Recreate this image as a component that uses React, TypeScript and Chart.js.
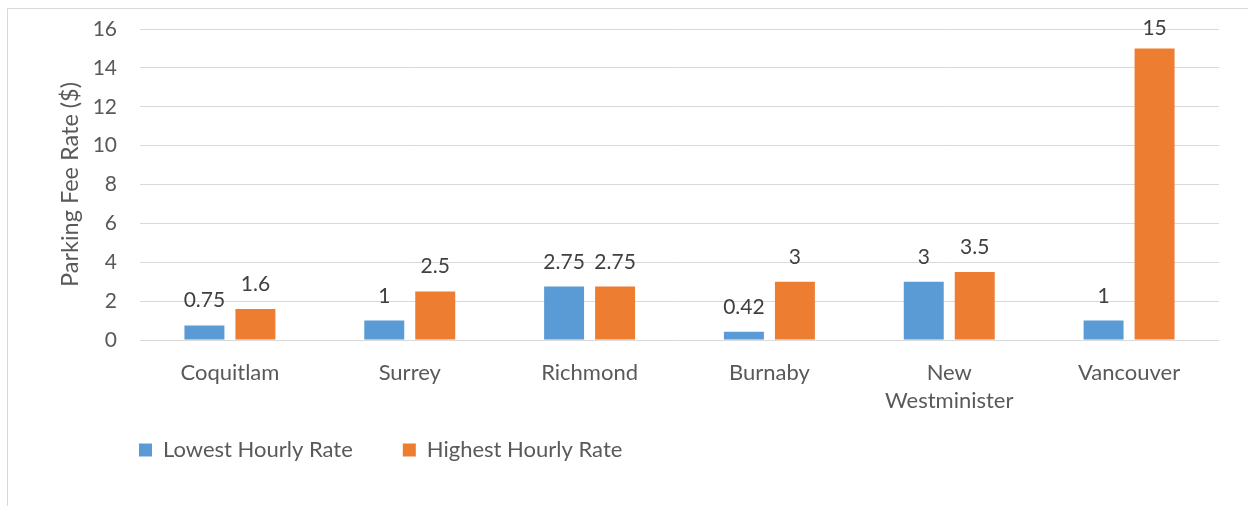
import React, { useEffect, useRef } from "react";
import { Chart, registerables } from "chart.js";

Chart.register(...registerables);

const categories: (string | string[])[] = [
  "Coquitlam",
  "Surrey",
  "Richmond",
  "Burnaby",
  ["New", "Westminister"],
  "Vancouver",
];
const lowestHourlyRate = [0.75, 1, 2.75, 0.42, 3, 1];
const highestHourlyRate = [1.6, 2.5, 2.75, 3, 3.5, 15];
const seriesNames = ["Lowest Hourly Rate", "Highest Hourly Rate"];
const yTicks = [0, 2, 4, 6, 8, 10, 12, 14, 16];
const yTitle = "Parking Fee Rate ($)";

const FONT = "Lato";
const AXIS_COLOR = "#595959";
const LABEL_COLOR = "#404040";

const frame = {
  id: "frame",
  beforeDraw(chart: any) {
    const ctx = chart.ctx;
    ctx.save();
    ctx.strokeStyle = "#d9d9d9";
    ctx.lineWidth = 1;
    ctx.beginPath();
    ctx.moveTo(7.5, chart.height);
    ctx.lineTo(7.5, 8.5);
    ctx.lineTo(chart.width, 8.5);
    ctx.stroke();
    ctx.restore();
  },
};

const legendShift = {
  id: "legendShift",
  afterLayout(chart: any) {
    const lg = chart.legend;
    if (lg) {
      const pad = lg.options.labels.padding;
      lg.left = chart.chartArea.left - 1 - pad;
      const h = lg.height;
      lg.top = chart.chartArea.bottom + 49;
      lg.bottom = lg.top + h;
    }
  },
};

const dataLabels = {
  id: "dataLabels",
  afterDatasetsDraw(chart: any) {
    const ctx = chart.ctx;
    ctx.save();
    ctx.font = `21px ${FONT}`;
    ctx.fillStyle = LABEL_COLOR;
    ctx.textAlign = "center";
    ctx.textBaseline = "alphabetic";
    chart.data.datasets.forEach((ds: any, di: number) => {
      const meta = chart.getDatasetMeta(di);
      meta.data.forEach((bar: any, i: number) => {
        const v = ds.data[i];
        const y = Math.max(bar.y - 18, chart.chartArea.top + 6);
        ctx.fillText(String(v), bar.x, y);
      });
    });
    ctx.restore();
  },
};

export default function App() {
  const ref = useRef<HTMLCanvasElement | null>(null);
  useEffect(() => {
    if (!ref.current) return;
    const chart = new Chart(ref.current, {
      type: "bar",
      data: {
        labels: categories,
        datasets: [
          {
            label: seriesNames[0],
            data: lowestHourlyRate,
            backgroundColor: "#5B9BD5",
            borderWidth: 0,
            categoryPercentage: 0.567,
            barPercentage: 0.784,
          },
          {
            label: seriesNames[1],
            data: highestHourlyRate,
            backgroundColor: "#ED7D31",
            borderWidth: 0,
            categoryPercentage: 0.567,
            barPercentage: 0.784,
          },
        ],
      },
      options: {
        responsive: false,
        animation: false,
        layout: { padding: { left: 0, right: 29, top: 29, bottom: 4 } },
        plugins: {
          legend: {
            position: "bottom",
            align: "start",
            fullSize: false,
            labels: {
              font: { family: FONT, size: 22 },
              color: AXIS_COLOR,
              boxWidth: 13,
              boxHeight: 13,
              padding: 50,
            },
          },
          tooltip: { enabled: false },
        },
        scales: {
          x: {
            grid: { display: false, drawTicks: false },
            border: { display: false },
            ticks: {
              font: { family: FONT, size: 22, lineHeight: 28 / 22 },
              color: AXIS_COLOR,
              padding: 19,
              maxRotation: 0,
              autoSkip: false,
            },
            afterFit(scale: any) {
              scale.height = 80;
            },
          },
          y: {
            min: 0,
            max: 16,
            afterBuildTicks(scale: any) {
              scale.ticks = yTicks.map((v) => ({ value: v }));
            },
            grid: { color: "#d9d9d9", lineWidth: 1, drawTicks: false },
            border: { display: false },
            ticks: {
              font: { family: FONT, size: 21 },
              color: AXIS_COLOR,
              padding: 23,
            },
            title: {
              display: true,
              text: yTitle,
              font: { family: FONT, size: 23.5 },
              color: AXIS_COLOR,
              padding: { top: 56, bottom: 0 },
            },
            afterFit(scale: any) {
              scale.width = 140;
              scale.paddingTop = 0;
              scale.paddingBottom = 0;
            },
          },
        },
      },
      plugins: [frame, legendShift, dataLabels],
    });
    return () => chart.destroy();
  }, []);
  return (
    <div
      style={{
        position: "fixed",
        left: 0,
        top: 0,
        width: 1248,
        height: 506,
        overflow: "hidden",
        background: "#fff",
      }}
    >
      <canvas ref={ref} width={1248} height={506} style={{ display: "block" }} />
    </div>
  );
}
